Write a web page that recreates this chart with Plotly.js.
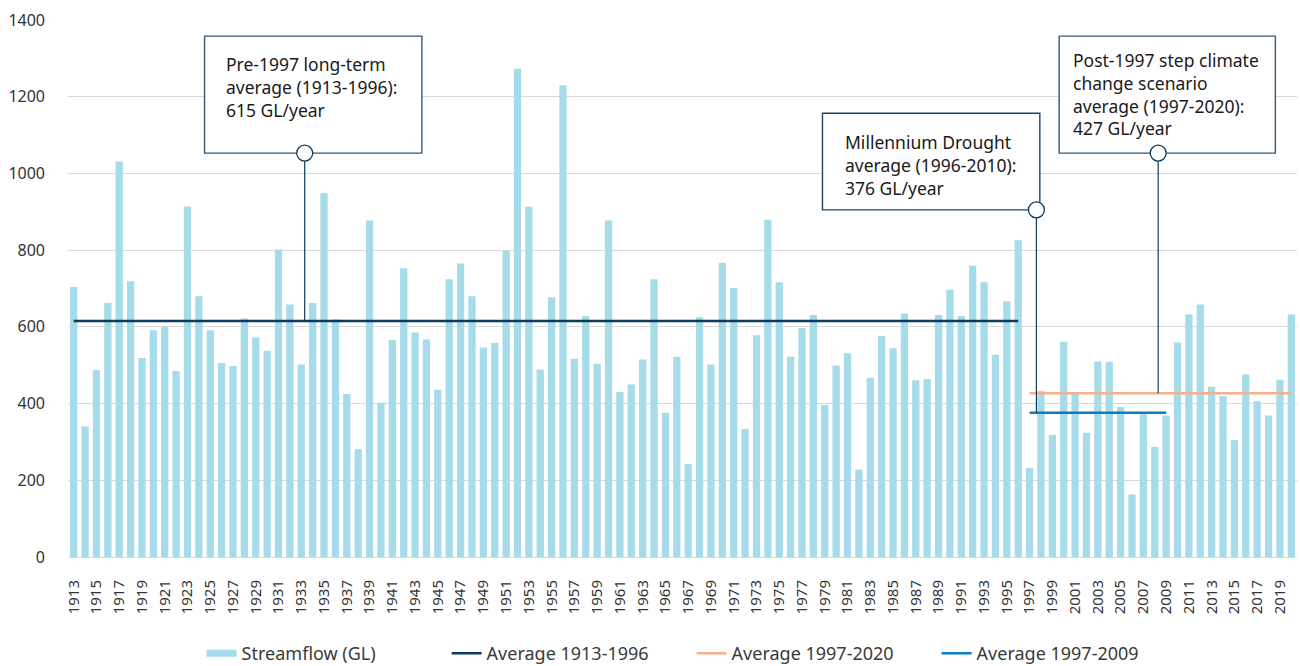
<!DOCTYPE html>
<html>
<head>
<meta charset="utf-8">
<script src="https://cdn.plot.ly/plotly-3.0.1.min.js"></script>
<style>html,body{margin:0;padding:0;background:#fff;}#chart{width:1300px;height:666px;}</style>
</head>
<body>
<div id="chart"></div>
<script>
// Years 1913–2020
const years = [];
for (let y = 1913; y <= 2020; y++) years.push(y);

// Annual streamflow (GL)
const streamflow = [
  704, 340, 487, 662, 1031, 719, 519, 591, 601, 485,   // 1913-1922
  914, 680, 591, 506, 498, 622, 572, 538, 802, 658,    // 1923-1932
  502, 662, 949, 620, 425, 281, 877, 402, 566, 753,    // 1933-1942
  585, 567, 436, 724, 765, 680, 546, 558, 798, 1273,   // 1943-1952
  913, 489, 677, 1230, 517, 628, 504, 877, 430, 450,   // 1953-1962
  515, 724, 376, 522, 242, 625, 502, 767, 701, 334,    // 1963-1972
  578, 879, 716, 522, 597, 631, 396, 499, 531, 228,    // 1973-1982
  467, 576, 544, 635, 461, 464, 631, 697, 628, 759,    // 1983-1992
  716, 527, 667, 826, 232, 433, 318, 561, 425, 324,    // 1993-2002
  510, 509, 391, 163, 372, 287, 369, 559, 633, 658,    // 2003-2012
  444, 420, 305, 476, 406, 369, 462, 632               // 2013-2020
];

// Period averages (GL/year)
const avgPreYears = [1913, 1996];
const avgPreValue = 615;
const avgPostYears = [1997, 2020];
const avgPostValue = 427;
const avgDroughtYears = [1997, 2009];
const avgDroughtValue = 376;

// Tick labels (every second year)
const tickYears = years.filter((y, i) => i % 2 === 0);

// Series names
const seriesNames = ['Streamflow (GL)', 'Average 1913-1996', 'Average 1997-2020', 'Average 1997-2009'];

// Callout texts
const calloutTexts = [
  'Pre-1997 long-term<br>average (1913-1996):<br>615 GL/year',
  'Millennium Drought<br>average (1996-2010):<br>376 GL/year',
  'Post-1997 step climate<br>change scenario<br>average (1997-2020):<br>427 GL/year'
];

const FONT = '"Noto Sans", "DejaVu Sans", sans-serif';
const NAVY = '#0d3b5e';
const BAR = '#a6dbea';
const BOXC = '#335a7a';

const traces = [
  {
    type: 'bar', x: years, y: streamflow, name: seriesNames[0], showlegend: false,
    marker: {color: BAR}, hoverinfo: 'x+y'
  },
  // legend-only entry drawn as a wide flat swatch like the reference
  {
    type: 'scatter', mode: 'lines', name: seriesNames[0], x: [null], y: [null],
    line: {color: BAR, width: 7}, hoverinfo: 'skip'
  },
  {
    type: 'scatter', mode: 'lines', name: seriesNames[1],
    x: avgPreYears, y: [avgPreValue, avgPreValue],
    line: {color: NAVY, width: 2.5}
  },
  {
    type: 'scatter', mode: 'lines', name: seriesNames[2],
    x: avgPostYears, y: [avgPostValue, avgPostValue],
    line: {color: '#f6b18c', width: 2.5}
  },
  {
    type: 'scatter', mode: 'lines', name: seriesNames[3],
    x: avgDroughtYears, y: [avgDroughtValue, avgDroughtValue],
    line: {color: '#0a7dc6', width: 2.5}
  }
];

// callout box geometry in data units
const boxes = [
  {x0: 1924.5, x1: 1943.6, y0: 1053, y1: 1358, pin: 1933.3, to: avgPreValue, tx: 1926.2, ty: 1322},
  {x0: 1978.8, x1: 1997.9, y0: 905, y1: 1157, pin: 1997.6, to: avgDroughtValue, tx: 1980.6, ty: 1119},
  {x0: 1999.6, x1: 2018.6, y0: 1053, y1: 1358, pin: 2008.3, to: avgPostValue, tx: 2000.6, ty: 1331}
];

const shapes = [];
const annotations = [];
boxes.forEach((b, i) => {
  shapes.push({type: 'line', xref: 'x', yref: 'y', x0: b.pin, x1: b.pin, y0: b.to, y1: b.y0,
    line: {color: NAVY, width: 1.2}, layer: 'above'});
  shapes.push({type: 'rect', xref: 'x', yref: 'y', x0: b.x0, x1: b.x1, y0: b.y0, y1: b.y1,
    fillcolor: '#ffffff', line: {color: i === 1 ? '#1f4466' : BOXC, width: 1.4}, layer: 'above'});
  annotations.push({xref: 'x', yref: 'y', x: b.tx, y: b.ty, xanchor: 'left', yanchor: 'top',
    align: 'left', showarrow: false, text: calloutTexts[i],
    font: {family: FONT, size: 17.5, color: '#1a1a1a'}});
});
boxes.forEach(b => {
  shapes.push({type: 'circle', xref: 'x', yref: 'y', layer: 'above',
    xsizemode: 'pixel', ysizemode: 'pixel', xanchor: b.pin, yanchor: b.y0,
    x0: -8, x1: 8, y0: -8, y1: 8,
    fillcolor: '#ffffff', line: {color: NAVY, width: 1.3}});
});

const layout = {
  width: 1300, height: 666,
  margin: {l: 68, r: 3, t: 20, b: 109, autoexpand: false},
  paper_bgcolor: '#ffffff', plot_bgcolor: '#ffffff',
  font: {family: FONT, color: '#333333', size: 15},
  bargap: 0.36,
  showlegend: true,
  legend: {
    orientation: 'h', x: 0.1087, xanchor: 'left', y: -0.18, yanchor: 'middle',
    font: {family: FONT, size: 18, color: '#3a3a3a'},
    entrywidth: 200, entrywidthmode: 'pixels', traceorder: 'normal'
  },
  xaxis: {
    range: [1912.5, 2020.5], tickmode: 'array', tickvals: tickYears,
    ticktext: tickYears.map(String), tickangle: -90,
    showgrid: false, zeroline: false, showline: true, linecolor: '#d9d9d9', linewidth: 1,
    ticks: '', ticklabelstandoff: 16,
    tickfont: {family: FONT, size: 15, color: '#333333'}, fixedrange: true
  },
  yaxis: {
    range: [0, 1400], dtick: 200, showgrid: true, gridcolor: '#d9d9d9', gridwidth: 1,
    zeroline: false, showline: false, ticks: '', ticklabelstandoff: 22,
    tickfont: {family: FONT, size: 16, color: '#333333'}, fixedrange: true
  },
  shapes: shapes,
  annotations: annotations
};

Plotly.newPlot('chart', traces, layout, {displayModeBar: false, staticPlot: true});
</script>
</body>
</html>
